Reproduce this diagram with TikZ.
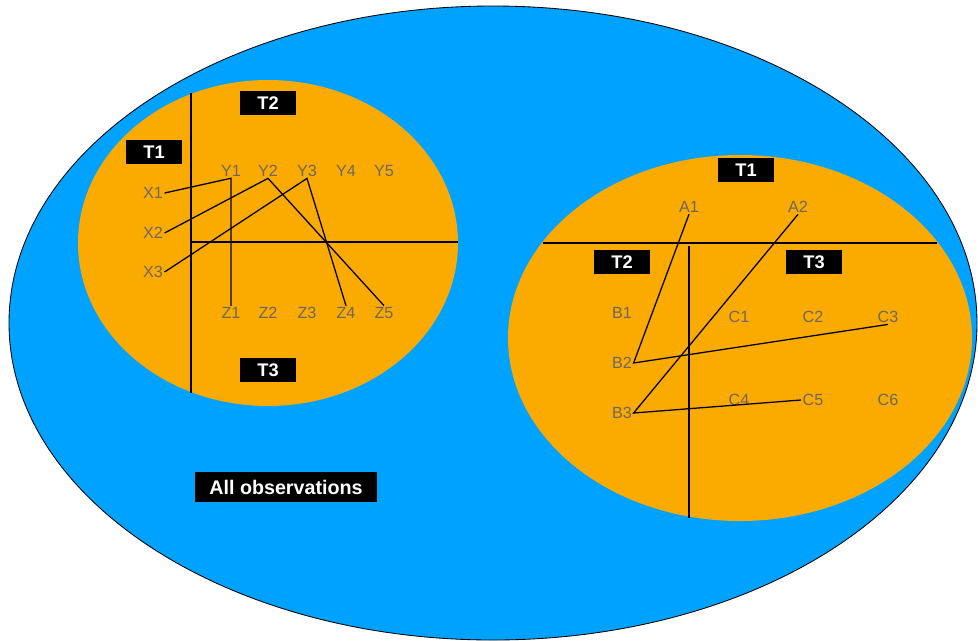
\documentclass[tikz,border=0pt]{standalone}
\usepackage{fontspec}
\setmainfont{Liberation Sans}
\definecolor{skyblue}{RGB}{0,162,255}
\definecolor{amber}{RGB}{251,170,0}
\definecolor{labelgray}{RGB}{110,104,95}
\begin{document}
\begin{tikzpicture}[x=0.025cm, y=-0.025cm,
    tbox/.style={fill=black, text=white, font=\bfseries\fontsize{13}{15}\selectfont, minimum width=40.5pt, minimum height=17pt, inner sep=0pt},
    obs/.style={text=labelgray, font=\fontsize{11.5}{13}\selectfont, inner sep=1pt},
    axis/.style={line width=2pt},
    link/.style={line width=0.9pt}]
    \useasboundingbox (0,0) rectangle (978,640);
    \clip (0,0) rectangle (978,640);
    \filldraw[fill=skyblue, draw=black, line width=0.6pt] (493,323) ellipse [x radius=484, y radius=317];
    \fill[amber] (268,243) ellipse [x radius=190, y radius=163];
    \fill[amber] (740,338) ellipse [x radius=232, y radius=183];
    % left group
    \draw[axis] (191,93) -- (191,393);
    \draw[axis] (191,242) -- (458,242);
    \node[tbox] (lt1) at (154,152) {T1};
    \node[tbox] (lt2) at (268,103) {T2};
    \node[tbox] (lt3) at (268,370) {T3};
    \node[obs] (x1) at (153,193) {X1};
    \node[obs] (x2) at (153,233) {X2};
    \node[obs] (x3) at (153,272) {X3};
    \node[obs] (y1) at (231,171) {Y1};
    \node[obs] (y2) at (268,171) {Y2};
    \node[obs] (y3) at (307,171) {Y3};
    \node[obs] (y4) at (346,171) {Y4};
    \node[obs] (y5) at (384,171) {Y5};
    \node[obs] (z1) at (231,313) {Z1};
    \node[obs] (z2) at (268,313) {Z2};
    \node[obs] (z3) at (307,313) {Z3};
    \node[obs] (z4) at (346,313) {Z4};
    \node[obs] (z5) at (384,313) {Z5};
    \draw[link] (x1.east) -- (y1.south) -- (z1.north);
    \draw[link] (x2.east) -- (y2.south) -- (z5.north);
    \draw[link] (x3.east) -- (y3.south) -- (z4.north);
    % right group
    \draw[axis] (543,243) -- (937,243);
    \draw[axis] (689,246) -- (689,518);
    \node[tbox] (rt1) at (746,170) {T1};
    \node[tbox] (rt2) at (622,262) {T2};
    \node[tbox] (rt3) at (814,262) {T3};
    \node[obs] (a1) at (689,207) {A1};
    \node[obs] (a2) at (798,207) {A2};
    \node[obs] (b1) at (622,313) {B1};
    \node[obs] (b2) at (622,363) {B2};
    \node[obs] (b3) at (622,413) {B3};
    \node[obs] (c1) at (739,317) {C1};
    \node[obs] (c2) at (813,317) {C2};
    \node[obs] (c3) at (888,317) {C3};
    \node[obs] (c4) at (739,400) {C4};
    \node[obs] (c5) at (813,400) {C5};
    \node[obs] (c6) at (888,400) {C6};
    \draw[link] (a1.south) -- (b2.east) -- (c3.south);
    \draw[link] (a2.south) -- (b3.east) -- (c5.west);
    \node[tbox, font=\bfseries\fontsize{14}{16}\selectfont, minimum width=129pt, minimum height=21pt] (all) at (286,487) {All observations};
\end{tikzpicture}
\end{document}
